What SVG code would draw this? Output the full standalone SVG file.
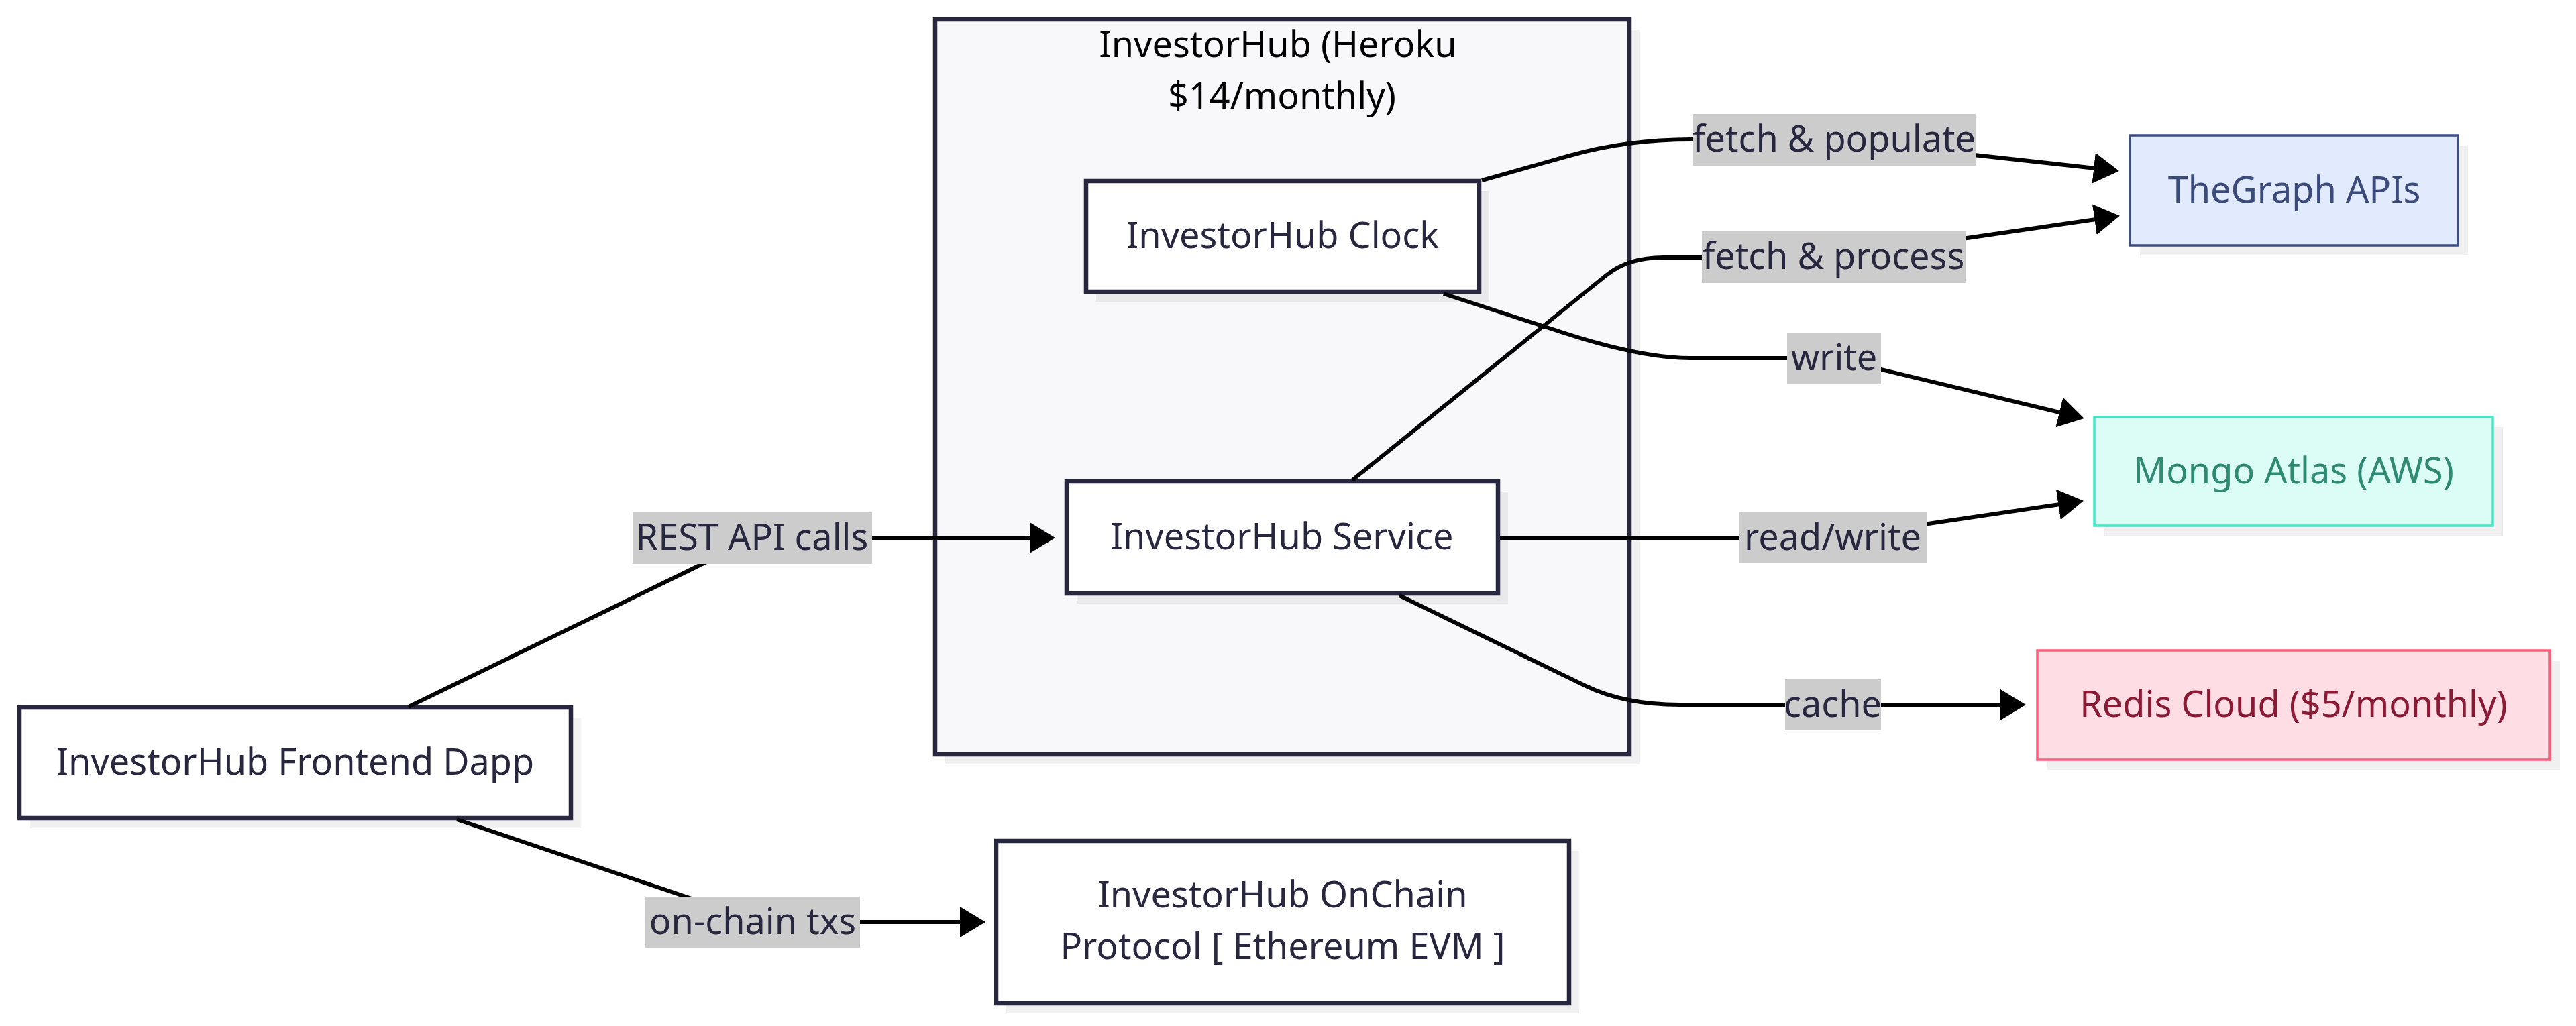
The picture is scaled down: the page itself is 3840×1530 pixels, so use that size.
<svg xmlns="http://www.w3.org/2000/svg" width="3840" height="1530" viewBox="0 0 3840 1530">
<defs>
<style>
text{font-family:"Noto Sans","Open Sans","DejaVu Sans",sans-serif;font-size:54px;text-anchor:middle;fill:#27273f}
.title{fill:#000}
.node{fill:#fff;stroke:#27273f;stroke-width:6.5}
.shadow{fill:#000;fill-opacity:0.06}
.cluster{fill:#f8f8fa;stroke:#27273f;stroke-width:6.5}
.graph{fill:#e2eafd;stroke:#3d4f82;stroke-width:3.5}
.mongo{fill:#dcfdf5;stroke:#42e8c6;stroke-width:3.5}
.redis{fill:#ffdde5;stroke:#ff5c7c;stroke-width:3.5}
.edge{fill:none;stroke:#000;stroke-width:6}
.lbl{fill:#cccccc}
</style>
<marker id="arrow" markerUnits="userSpaceOnUse" markerWidth="40" markerHeight="48" refX="30" refY="23" orient="auto" viewBox="0 0 40 48">
<path d="M0,0 L38,23 L0,46 z" fill="#000"/>
</marker>
</defs>
<rect width="3840" height="1530" fill="#fff"/>

<g id="cluster-heroku">
<rect class="shadow" x="1409" y="44" width="1035" height="1096"/>
<rect class="cluster" x="1394" y="29" width="1035" height="1096"/>
<text class="title" x="1905" y="85">InvestorHub (Heroku</text>
<text class="title" x="1911" y="162">$14/monthly)</text>
</g>

<g id="node-frontend">
<rect class="shadow" x="44" y="1070" width="822" height="165"/>
<rect class="node" x="29" y="1055" width="822" height="165"/>
<text x="440" y="1155">InvestorHub Frontend Dapp</text>
</g>

<g id="node-clock">
<rect class="shadow" x="1634" y="285" width="586" height="165"/>
<rect class="node" x="1619" y="270" width="586" height="165"/>
<text x="1912" y="370">InvestorHub Clock</text>
</g>

<g id="node-service">
<rect class="shadow" x="1605" y="733" width="643" height="167"/>
<rect class="node" x="1590" y="718" width="643" height="167"/>
<text x="1911" y="819">InvestorHub Service</text>
</g>

<g id="node-onchain">
<rect class="shadow" x="1500" y="1269" width="854" height="242"/>
<rect class="node" x="1485" y="1254" width="854" height="242"/>
<text x="1912" y="1353">InvestorHub OnChain</text>
<text x="1912" y="1430">Protocol [ Ethereum EVM ]</text>
</g>

<g id="node-thegraph">
<rect class="shadow" x="3190" y="217" width="489" height="164"/>
<rect class="graph" x="3175" y="202" width="489" height="164"/>
<text x="3420" y="302" style="fill:#3a4a7a">TheGraph APIs</text>
</g>

<g id="node-mongo">
<rect class="shadow" x="3137" y="637" width="594" height="162"/>
<rect class="mongo" x="3122" y="622" width="594" height="162"/>
<text x="3419" y="721" style="fill:#2e8a72">Mongo Atlas (AWS)</text>
</g>

<g id="node-redis">
<rect class="shadow" x="3052" y="985" width="764" height="163"/>
<rect class="redis" x="3037" y="970" width="764" height="163"/>
<text x="3419" y="1069" style="fill:#8b1a35">Redis Cloud ($5/monthly)</text>
</g>

<g id="connectors">
<path class="edge" marker-end="url(#arrow)" d="M609,1054 L1049,840 Q1127,802 1200,802 L1565,802"/>
<path class="edge" marker-end="url(#arrow)" d="M681,1222 L1019,1336 Q1135,1375 1200,1375 L1461,1375"/>
<path class="edge" marker-end="url(#arrow)" d="M2209,269 L2340,232 Q2425,208 2522,208 L2734,208 L3151,254"/>
<path class="edge" marker-end="url(#arrow)" d="M2016,716 L2395,410 Q2427,384 2480,384 L2733,384 L3152,323"/>
<path class="edge" marker-end="url(#arrow)" d="M2152,438 L2330,496 Q2447,534 2520,534 L2734,534 L3099,622"/>
<path class="edge" marker-end="url(#arrow)" d="M2236,802 L2732,802 L3098,748"/>
<path class="edge" marker-end="url(#arrow)" d="M2086,888 L2364,1023 Q2422,1051 2504,1051 L3012,1051"/>

<g id="label-rest">
<rect class="lbl" x="943" y="764" width="357" height="77"/>
<text x="1121" y="820">REST API calls</text>
</g>
<g id="label-onchain">
<rect class="lbl" x="962" y="1337" width="320" height="76"/>
<text x="1122" y="1393">on-chain txs</text>
</g>
<g id="label-populate">
<rect class="lbl" x="2523" y="170" width="422" height="77"/>
<text x="2734" y="226">fetch &amp; populate</text>
</g>
<g id="label-process">
<rect class="lbl" x="2537" y="345" width="393" height="77"/>
<text x="2733" y="401">fetch &amp; process</text>
</g>
<g id="label-write">
<rect class="lbl" x="2664" y="496" width="140" height="77"/>
<text x="2734" y="552">write</text>
</g>
<g id="label-readwrite">
<rect class="lbl" x="2593" y="764" width="279" height="76"/>
<text x="2732" y="820">read/write</text>
</g>
<g id="label-cache">
<rect class="lbl" x="2661" y="1013" width="143" height="76"/>
<text x="2732" y="1069">cache</text>
</g>
</g>
</svg>
